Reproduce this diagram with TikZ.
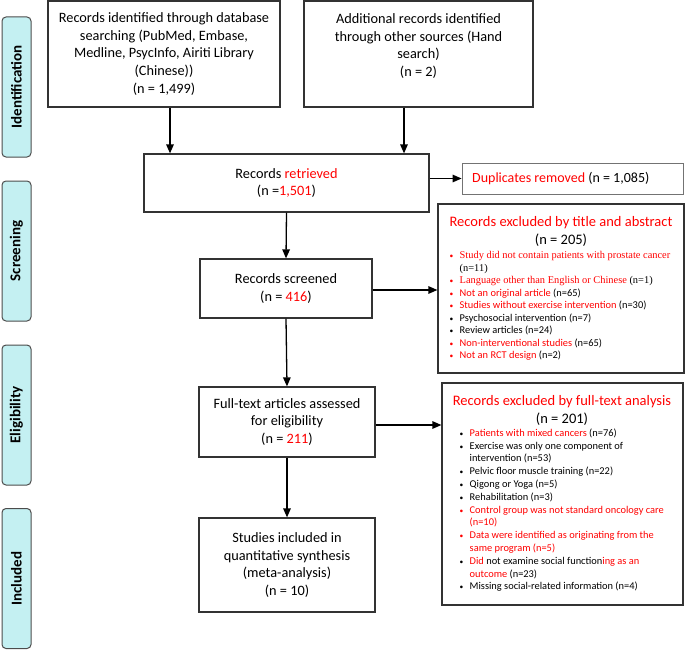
\documentclass[tikz,border=0pt]{standalone}
\usepackage{fontspec}
\setmainfont{Carlito}
\newfontfamily\tnr{Liberation Serif}
\usetikzlibrary{arrows.meta}
\definecolor{side}{HTML}{C4F0F2}
\definecolor{rd}{HTML}{FF0000}
\newcommand\mybul[1]{\makebox[10pt][l]{\textcolor{#1}{\fontsize{7.5}{7.5}\selectfont •}}}
\begin{document}
\begin{tikzpicture}[x=1pt,y=-1pt,
  box/.style={draw=black!80, line width=1.2pt, inner sep=0pt, align=center, font=\fontsize{14.3}{17.7}\selectfont},
  sidebox/.style={draw=black!70, fill=side, rounded corners=4pt, line width=1pt, rotate=90, minimum width=140pt, minimum height=29pt, inner sep=0pt, font=\bfseries\fontsize{15}{17}\selectfont},
  arr/.style={-{Triangle[length=9pt,width=7.5pt]}, line width=1.3pt},
  title/.style={font=\fontsize{14.5}{16}\selectfont, inner sep=0pt},
  lst/.style={align=left, inner sep=0pt, anchor=north west}]
\useasboundingbox (0,0) rectangle (685,650);
% side labels
\node[sidebox] (sid) at (16.5,87) {Identification};
\node[sidebox] (sscr) at (16.5,251) {Screening};
\node[sidebox] (sel) at (16.5,415) {Eligibility};
\node[sidebox] (sinc) at (16.5,578.5) {Included};
% main boxes
\node[box, minimum width=232pt, minimum height=106pt] (db) at (164,54)
  {Records identified through database\\searching (PubMed, Embase,\\Medline, PsycInfo, Airiti Library\\(Chinese))\\(n = 1,499)};
\node[box, minimum width=229pt, minimum height=106pt] (oth) at (418.5,54)
  {Additional records identified\\through other sources (Hand\\search)\\(n = 2)\\\mbox{}};
\node[box, minimum width=285pt, minimum height=58pt] (ret) at (286.5,183)
  {Records \textcolor{rd}{retrieved}\\(n =\textcolor{rd}{1,501})};
\node[box, draw=black!55, line width=0.8pt, minimum width=221pt, minimum height=31pt] (dup) at (572.5,178.5) {};
\node[inner sep=0pt, anchor=west, font=\fontsize{14}{16}\selectfont] (dupt) at (472,178.5)
  {\textcolor{rd}{Duplicates removed} (n = 1,085)};
\node[box, minimum width=172pt, minimum height=59pt] (scr) at (286,288.5)
  {Records screened\\(n = \textcolor{rd}{416})};
\node[box, minimum width=176pt, minimum height=70pt] (full) at (287,422)
  {Full-text articles assessed\\for eligibility\\(n = \textcolor{rd}{211})};
\node[box, minimum width=176pt, minimum height=94pt] (stu) at (287,565)
  {Studies included in\\quantitative synthesis\\(meta-analysis)\\(n = 10)};
\node[box, minimum width=246pt, minimum height=169pt] (ex1) at (561,288.5) {};
\node[box, minimum width=241pt, minimum height=222pt] (ex2) at (562.5,494) {};
% exclusion 1 contents
\node[title, text=rd] (ex1t) at (561,223) {Records excluded by title and abstract};
\node[title] (ex1n) at (561,240) {(n = 205)};
\node[lst, font=\fontsize{10.4}{12.5}\selectfont] (ex1l) at (449.5,251.5) {%
\mybul{rd}{\tnr\textcolor{rd}{Study did not contain patients with prostate cancer}}\\
\hspace*{10pt}{\tnr (n=11)}\\
\mybul{rd}{\tnr\textcolor{rd}{Language other than English or Chinese} (n=1)}\\
\mybul{rd}\textcolor{rd}{Not an original article} (n=65)\\
\mybul{rd}\textcolor{rd}{Studies without exercise intervention} (n=30)\\
\mybul{black}Psychosocial intervention (n=7)\\
\mybul{black}Review articles (n=24)\\
\mybul{rd}\textcolor{rd}{Non-interventional studies} (n=65)\\
\mybul{rd}\textcolor{rd}{Not an RCT design} (n=2)};
% exclusion 2 contents
\node[title, text=rd] (ex2t) at (562,402) {Records excluded by full-text analysis};
\node[title] (ex2n) at (562,419) {(n = 201)};
\node[lst, font=\fontsize{10.4}{12.8}\selectfont] (ex2l) at (459.5,428.5) {%
\mybul{black}\textcolor{rd}{Patients with mixed cancers} (n=76)\\
\mybul{black}Exercise was only one component of\\
\hspace*{10pt}intervention (n=53)\\
\mybul{black}Pelvic floor muscle training (n=22)\\
\mybul{black}Qigong or Yoga (n=5)\\
\mybul{black}Rehabilitation (n=3)\\
\mybul{rd}\textcolor{rd}{Control group was not standard oncology care}\\
\hspace*{10pt}\textcolor{rd}{(n=10)}\\
\mybul{rd}\textcolor{rd}{Data were identified as originating from the}\\
\hspace*{10pt}\textcolor{rd}{same program (n=5)}\\
\mybul{black}\textcolor{rd}{Did} not examine social function\textcolor{rd}{ing as an}\\
\hspace*{10pt}\textcolor{rd}{outcome} (n=23)\\
\mybul{black}Missing social-related information (n=4)};
% arrows
\draw[arr] ([xshift=6pt]db.south) -- ([xshift=6pt]db.south |- ret.north);
\draw[arr] ([xshift=-14.5pt]oth.south) -- ([xshift=-14.5pt]oth.south |- ret.north);
\draw[arr] (ret.east |- dup.west) -- (dup.west);
\draw[arr] (ret.south) -- (scr.north);
\draw[arr] ([yshift=-1.5pt]scr.east) -- ([yshift=-1.5pt]scr.east -| ex1.west);
\draw[arr] (scr.south) -- (full.north);
\draw[arr] ([yshift=-3pt]full.east) -- ([yshift=-3pt]full.east -| ex2.west);
\draw[arr] (full.south) -- (stu.north);
\end{tikzpicture}
\end{document}
